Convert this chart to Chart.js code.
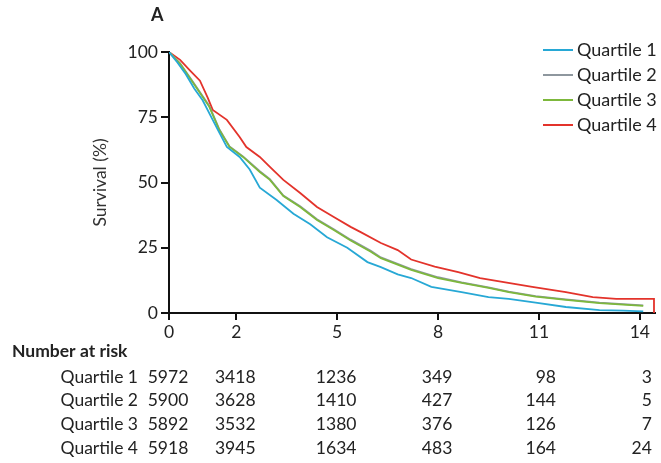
<!DOCTYPE html>
<html>
<head>
  <meta charset="utf-8">
  <title>Survival by quartile</title>
  <script src="https://cdn.jsdelivr.net/npm/chart.js@4.4.0/dist/chart.umd.min.js"></script>
  <style>
    body { margin: 0; background: #fff; }
    #wrap { width: 661px; height: 463px; }
  </style>
</head>
<body>
  <div id="wrap"><canvas id="kmChart" width="661" height="463"></canvas></div>

  <script>
    // survival curves (years, %)
    const times1 = [0, 0.25, 0.5, 0.75, 1.0, 1.3, 1.5, 1.72, 2.1, 2.4, 2.7, 3.2, 3.7, 4.2, 4.7, 5.3, 5.9, 6.3, 6.8, 7.2, 7.8, 8.7, 9.5, 10.1, 10.9, 11.8, 12.8, 13.5, 14.1];
    const surv1  = [100, 96, 91.5, 86, 81.5, 74, 69, 63.6, 59.8, 55, 48, 43.3, 38, 34, 29, 25, 19.5, 17.6, 14.8, 13.4, 10, 8, 6.1, 5.4, 4.0, 2.3, 1.1, 0.9, 0.6];

    const times23 = [0, 0.33, 0.7, 1.2, 1.5, 1.8, 2.2, 2.7, 3.0, 3.4, 3.9, 4.4, 4.9, 5.4, 6.0, 6.3, 7.2, 8.0, 8.7, 9.5, 10.1, 10.9, 11.8, 12.8, 13.5, 14.1];
    const surv2  = [100, 95.7, 88.8, 79.3, 70.3, 63.8, 60, 54.3, 51.3, 45, 40.9, 35.9, 32.1, 28.1, 23.8, 21.3, 16.8, 13.7, 11.7, 9.8, 8.2, 6.5, 5.2, 4.0, 3.4, 2.9];
    const surv3  = [100, 95.5, 88.5, 79, 70, 63.6, 59.8, 54, 51, 44.8, 40.6, 35.6, 31.8, 27.8, 23.5, 21, 16.5, 13.4, 11.5, 9.6, 8.0, 6.3, 5.0, 3.8, 3.2, 2.7];

    const times4 = [0, 0.33, 0.62, 0.92, 1.15, 1.3, 1.72, 2.1, 2.3, 2.7, 3.0, 3.4, 3.9, 4.4, 4.9, 5.4, 5.7, 6.3, 6.8, 7.2, 7.9, 8.6, 9.25, 10.0, 10.8, 11.8, 12.6, 13.3, 14.42, 14.42];
    const surv4  = [100, 97, 93, 89, 82.5, 77.8, 74, 67.4, 63.6, 59.8, 56, 51, 46, 40.6, 36.8, 33, 31, 26.8, 24.1, 20.5, 17.8, 15.7, 13.4, 11.7, 10, 8.0, 6.1, 5.4, 5.4, 0];

    const seriesNames = ['Quartile 1', 'Quartile 2', 'Quartile 3', 'Quartile 4'];
    const seriesColors = ['#27a8d5', '#8e979e', '#7db83c', '#e3332b'];
    const drawOrder = [0, 2, 1, 3]; // green sits over grey as in the figure

    const xTicks = [0, 2, 5, 8, 11, 14];
    const yTicks = [0, 25, 50, 75, 100];

    // number at risk table
    const riskTimes = [0, 2, 5, 8, 11, 14];
    const riskQ1 = [5972, 3418, 1236, 349, 98, 3];
    const riskQ2 = [5900, 3628, 1410, 427, 144, 5];
    const riskQ3 = [5892, 3532, 1380, 376, 126, 7];
    const riskQ4 = [5918, 3945, 1634, 483, 164, 24];

    const FONT = 'Lato';
    const FS = 17.5;
    const TEXT = '#222';

    function pts(t, s) {
      return t.map((v, i) => ({ x: v, y: s[i] }));
    }

    const curves = [pts(times1, surv1), pts(times23, surv2), pts(times23, surv3), pts(times4, surv4)];

    const extras = {
      id: 'extras',
      afterDraw(chart) {
        const ctx = chart.ctx;
        const xs = chart.scales.x;
        ctx.save();
        ctx.fillStyle = TEXT;
        ctx.textBaseline = 'middle';

        // panel letter
        ctx.font = 'bold 18px ' + FONT;
        ctx.textAlign = 'left';
        ctx.fillText('A', 151, 15);

        // legend
        ctx.font = (FS + 0.5) + 'px ' + FONT;
        seriesNames.forEach((name, i) => {
          const y = 50 + i * 25;
          ctx.strokeStyle = seriesColors[i];
          ctx.lineWidth = 2;
          ctx.beginPath();
          ctx.moveTo(543, y);
          ctx.lineTo(573, y);
          ctx.stroke();
          ctx.fillStyle = TEXT;
          ctx.fillText(name, 577, y);
        });

        // number at risk
        ctx.font = 'bold ' + FS + 'px ' + FONT;
        ctx.fillText('Number at risk', 12, 351);
        ctx.font = FS + 'px ' + FONT;
        const rows = [riskQ1, riskQ2, riskQ3, riskQ4];
        rows.forEach((row, r) => {
          const y = 377 + r * 23.7;
          ctx.textAlign = 'right';
          ctx.fillText(seriesNames[r], 138, y);
          row.forEach((n, c) => {
            const px = xs.getPixelForValue(riskTimes[c]);
            if (c === 4) {
              ctx.textAlign = 'right';
              ctx.fillText(String(n), px + 17, y);
            } else if (c === 5) {
              ctx.textAlign = 'right';
              ctx.fillText(String(n), px + 12, y);
            } else {
              ctx.textAlign = 'center';
              ctx.fillText(String(n), px - 1, y);
            }
          });
        });
        ctx.restore();
      }
    };

    new Chart(document.getElementById('kmChart'), {
      type: 'line',
      data: {
        datasets: curves.map((d, i) => ({
          label: seriesNames[i],
          data: d,
          order: drawOrder[i],
          borderColor: seriesColors[i],
          borderWidth: 1.8,
          pointRadius: 0,
          tension: 0,
          fill: false
        }))
      },
      options: {
        responsive: false,
        animation: false,
        layout: { padding: { left: 90, top: 52, right: 6, bottom: 0 } },
        plugins: {
          legend: { display: false },
          tooltip: { enabled: false }
        },
        scales: {
          x: {
            type: 'linear',
            min: 0,
            max: 14.45,
            afterBuildTicks: (scale) => { scale.ticks = xTicks.map(v => ({ value: v })); },
            afterFit: (scale) => { scale.height = 150; },
            border: { display: true, color: '#111', width: 2 },
            grid: { display: true, drawOnChartArea: false, drawTicks: true, tickLength: 7, color: '#111', lineWidth: 2 },
            ticks: { color: TEXT, font: { family: FONT, size: FS }, padding: 2, maxRotation: 0 }
          },
          y: {
            min: 0,
            max: 100,
            afterBuildTicks: (scale) => { scale.ticks = yTicks.map(v => ({ value: v })); },
            afterFit: (scale) => { scale.width = 79; },
            border: { display: true, color: '#111', width: 2 },
            grid: { display: true, drawOnChartArea: false, drawTicks: true, tickLength: 8, color: '#111', lineWidth: 2 },
            ticks: { color: TEXT, font: { family: FONT, size: FS }, padding: 3 },
            title: { display: true, text: 'Survival (%)', color: '#333', font: { family: FONT, size: FS }, padding: 0 }
          }
        }
      },
      plugins: [extras]
    });
  </script>
</body>
</html>
